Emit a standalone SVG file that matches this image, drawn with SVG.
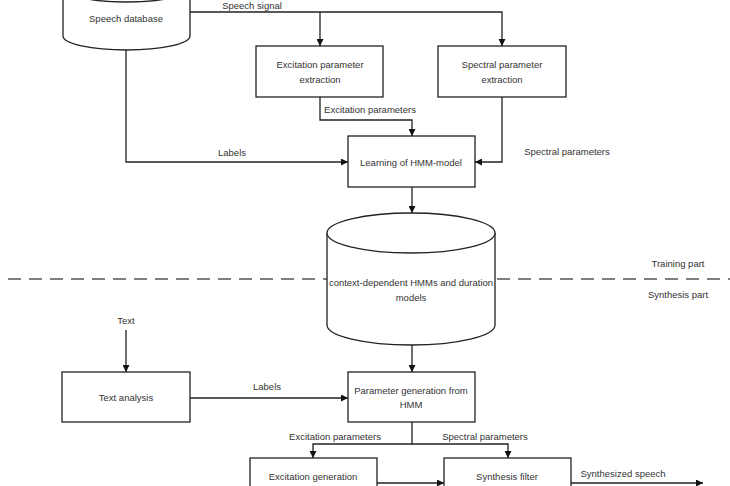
<svg xmlns="http://www.w3.org/2000/svg" width="730" height="486" viewBox="0 0 730 486">
<style>
.box{fill:#fff;stroke:#222;stroke-width:1.3}
.ln{fill:none;stroke:#222;stroke-width:1.3}
.dash{fill:none;stroke:#555;stroke-width:1.6;stroke-dasharray:13 8}
text{font-family:"Liberation Sans",Arial,sans-serif;font-size:9.5px;fill:#333;text-anchor:middle}
</style>
<defs>
<marker id="ah" viewBox="0 0 10 10" refX="10" refY="5" markerWidth="7" markerHeight="7" markerUnits="userSpaceOnUse" orient="auto">
<path d="M0,0 L10,5 L0,10 Z" fill="#111"/>
</marker>
</defs>
<rect width="730" height="486" fill="#fff"/>
<g id="dashed">
<line class="dash" x1="8" y1="279" x2="327" y2="279"/>
<line class="dash" x1="497" y1="279" x2="730" y2="279"/>
<text x="678" y="267">Training part</text>
<text x="678" y="298">Synthesis part</text>
</g>
<g id="connectors">
<path class="ln" d="M190,12 H502 V46" marker-end="url(#ah)"/>
<path class="ln" d="M320,12 V46" marker-end="url(#ah)"/>
<text x="252" y="9.2">Speech signal</text>
<path class="ln" d="M320,97 V120 H412 V136" marker-end="url(#ah)"/>
<text x="370" y="113">Excitation parameters</text>
<path class="ln" d="M126,50 V162 H348" marker-end="url(#ah)"/>
<text x="232" y="156">Labels</text>
<path class="ln" d="M502,97 V162 H475" marker-end="url(#ah)"/>
<text x="567" y="155">Spectral parameters</text>
<path class="ln" d="M412,187 V213" marker-end="url(#ah)"/>
<path class="ln" d="M126,330 V372" marker-end="url(#ah)"/>
<text x="126" y="324">Text</text>
<path class="ln" d="M190,398 H348" marker-end="url(#ah)"/>
<text x="267" y="390">Labels</text>
<path class="ln" d="M412,345 V372" marker-end="url(#ah)"/>
<path class="ln" d="M412,422 V444 H313 V458" marker-end="url(#ah)"/>
<path class="ln" d="M412,444 H508 V458" marker-end="url(#ah)"/>
<text x="335" y="440">Excitation parameters</text>
<text x="485" y="440">Spectral parameters</text>
<path class="ln" d="M377,483 H444" marker-end="url(#ah)"/>
<path class="ln" d="M571,483 H703" marker-end="url(#ah)"/>
<text x="623" y="477">Synthesized speech</text>
</g>
<g id="speech-db">
<path class="box" d="M63,-12 V36 A63.5,14 0 0 0 190,36 V-12"/>
<ellipse class="box" cx="126.5" cy="-12" rx="63.5" ry="14"/>
<text x="126" y="22">Speech database</text>
</g>
<g id="excitation-extraction">
<rect class="box" x="256" y="46" width="127" height="51"/>
<text x="320" y="68">Excitation parameter</text>
<text x="320" y="83">extraction</text>
</g>
<g id="spectral-extraction">
<rect class="box" x="438" y="46" width="128" height="51"/>
<text x="502" y="68">Spectral parameter</text>
<text x="502" y="83">extraction</text>
</g>
<g id="learning">
<rect class="box" x="348" y="136" width="127" height="51"/>
<text x="411" y="166">Learning of HMM-model</text>
</g>
<g id="hmm-db">
<path class="box" d="M327,233 V325 A84,20 0 0 0 495,325 V233"/>
<ellipse class="box" cx="411" cy="233" rx="84" ry="20"/>
<text x="411" y="286">context-dependent HMMs and duration</text>
<text x="411" y="301">models</text>
</g>
<g id="text-analysis">
<rect class="box" x="62" y="372" width="128" height="50"/>
<text x="126" y="401">Text analysis</text>
</g>
<g id="param-gen">
<rect class="box" x="348" y="372" width="127" height="50"/>
<text x="411" y="394">Parameter generation from</text>
<text x="411" y="408">HMM</text>
</g>
<g id="excitation-gen">
<rect class="box" x="250" y="458" width="127" height="50"/>
<text x="313" y="480">Excitation generation</text>
</g>
<g id="synthesis-filter">
<rect class="box" x="444" y="458" width="127" height="50"/>
<text x="507" y="480">Synthesis filter</text>
</g>
</svg>
